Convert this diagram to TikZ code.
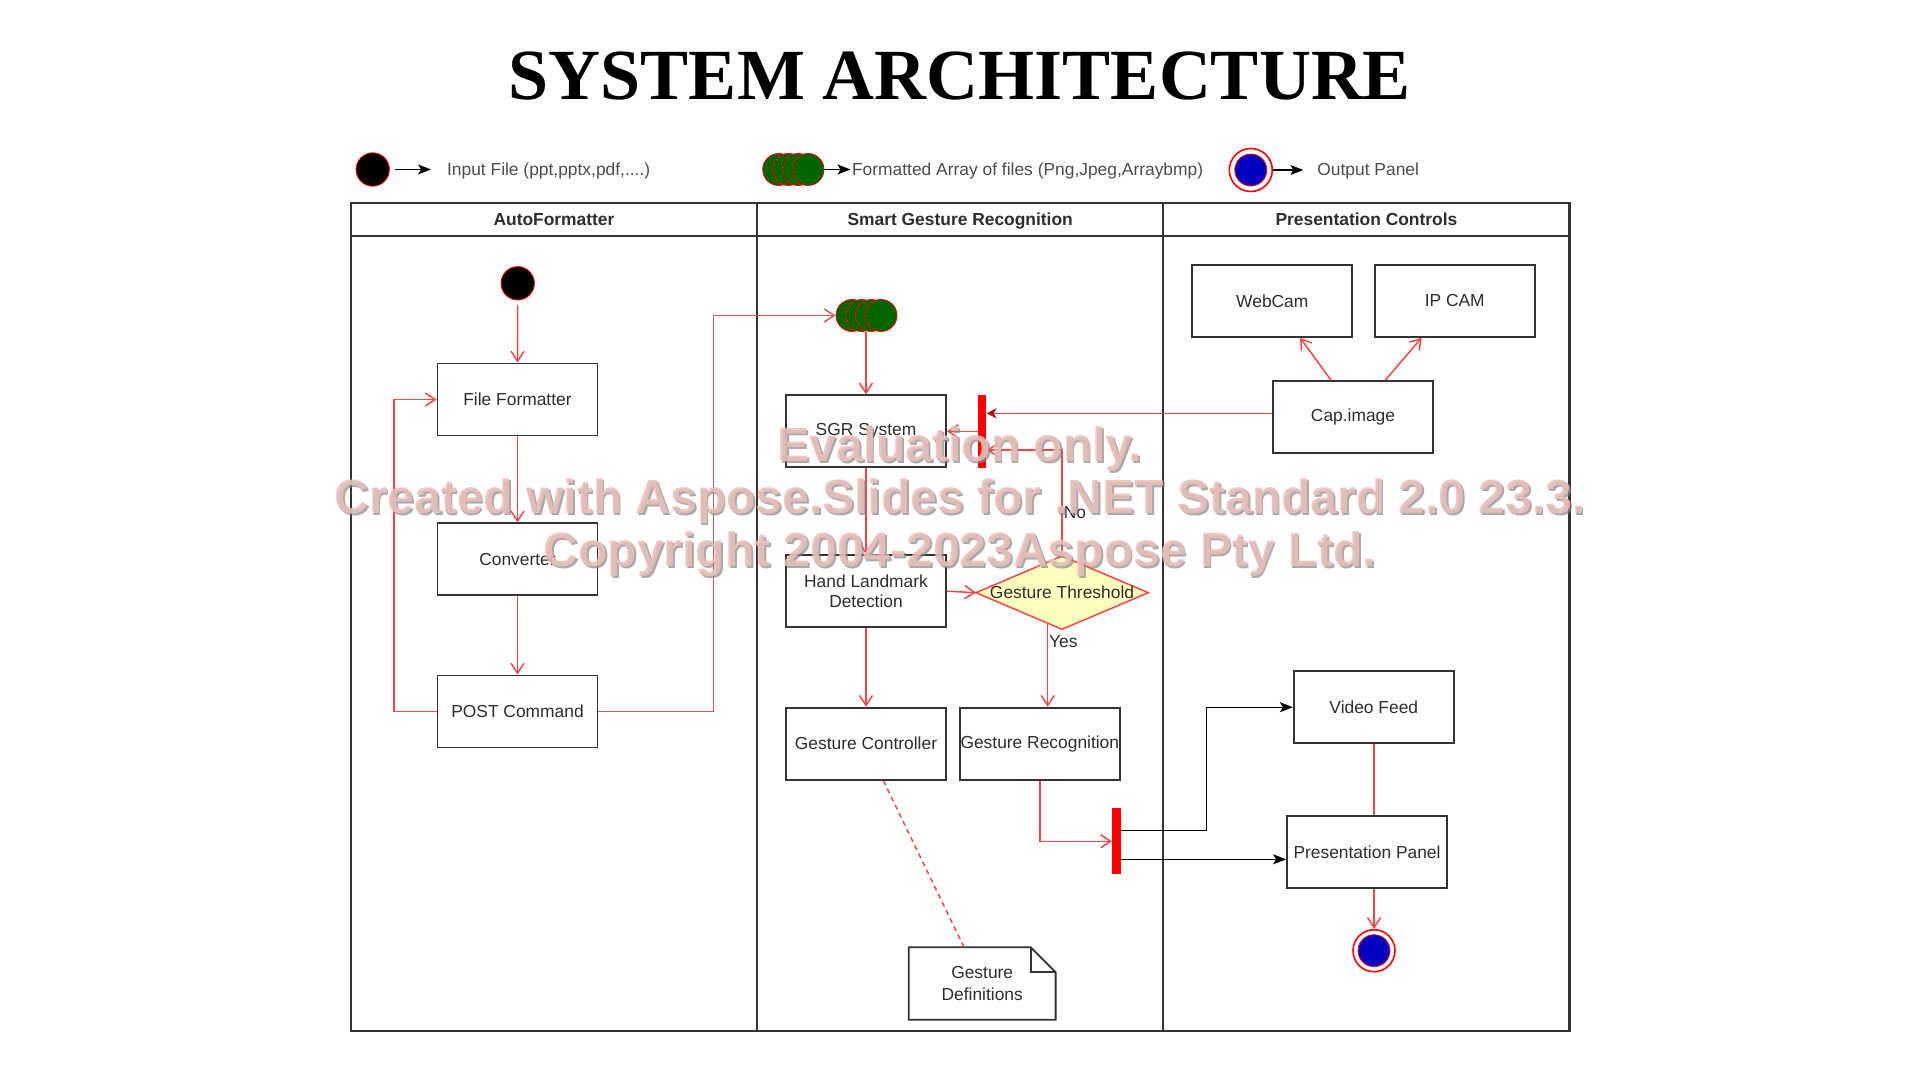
\documentclass[tikz,border=0pt]{standalone}
\usepackage{fontspec}
\setmainfont{Liberation Sans}
\newfontfamily\titlefont{Liberation Serif}
\usetikzlibrary{arrows.meta,calc}
\definecolor{lred}{RGB}{245,70,70}
\definecolor{bred}{RGB}{200,95,95}
\definecolor{dred}{RGB}{180,20,20}
\definecolor{boxc}{RGB}{51,51,51}
\definecolor{txtc}{RGB}{45,45,45}
\definecolor{ggreen}{RGB}{0,100,0}
\definecolor{eblue}{RGB}{0,0,192}
\definecolor{nyellow}{RGB}{255,255,192}
\definecolor{wmpink}{RGB}{234,192,186}
\definecolor{wmgray}{RGB}{135,135,135}
\newcommand\lblfont{\fontsize{8.7pt}{10.2pt}\selectfont}
\newcommand\wmfont{\fontsize{24pt}{28pt}\selectfont\bfseries}
\tikzset{
  box/.style={draw=boxc, line width=0.9pt, minimum width=80pt, minimum height=36pt, inner sep=0pt, font=\lblfont, text=txtc, align=center},
  conn/.style={draw=lred, line width=0.75pt, -{Straight Barb[length=5pt,width=6.5pt]}},
  barrow/.style={draw=black, line width=0.7pt, -{Stealth[length=6.5pt,width=5pt,inset=1.5pt]}},
  lane/.style={draw=boxc, line width=1.1pt},
  hdr/.style={font=\lblfont\bfseries, text=txtc, inner sep=0pt, anchor=base},
  legtext/.style={font=\lblfont, text=txtc!85!white, inner sep=0pt, anchor=base west},
  small/.style={font=\lblfont, text=txtc, inner sep=0pt},
  forkbar/.style={fill=red, draw=none, inner sep=0pt},
  wm/.style={font=\wmfont, text=wmpink, text opacity=0.88, anchor=base, inner sep=0pt},
  wms/.style={font=\wmfont, text=wmgray, text opacity=0.7, anchor=base, inner sep=0pt},
  dot/.style={circle, inner sep=0pt, draw=red, line width=0.4pt}
}
\begin{document}
\begin{tikzpicture}[x=0.5pt,y=-0.5pt]
\useasboundingbox (0,0) rectangle (1920,1080);
\fill[white] (0,0) rectangle (1920,1080);

% title
\node[anchor=base, inner sep=0pt, font=\titlefont\bfseries\fontsize{36pt}{40pt}\selectfont] (title) at (960,99.5) {SYSTEM ARCHITECTURE};

% legend
\node[dot, fill=black, minimum size=16.7pt] (lg1) at (372.7,169.5) {};
\node[legtext] (lgt1) at (446.7,175.8) {Input File (ppt,pptx,pdf,....)};
\draw[barrow, shorten <=2.5pt, shorten >=7.8pt] (lg1.east) -- (lgt1.west |- lg1.east);

\node[dot, fill=ggreen, minimum size=16pt] (lg2a) at (778.7,169.5) {};
\node[dot, fill=ggreen, minimum size=16pt] (lg2b) at (788.5,169.5) {};
\node[dot, fill=ggreen, minimum size=16pt] (lg2c) at (798.2,169.5) {};
\node[dot, fill=ggreen, minimum size=16pt] (lg2d) at (808,169.5) {};
\node[legtext] (lgt2) at (851.7,175.8) {Formatted Array of files (Png,Jpeg,Arraybmp)};
\draw[barrow, shorten >=0.6pt] (lg2d.east) -- (lgt2.west |- lg2d.east);

\node[circle, draw=red, fill=white, line width=0.8pt, minimum size=21.5pt, inner sep=0pt] (lg3) at (1250.8,170) {};
\node[dot, fill=eblue, minimum size=16pt] (lg3i) at (1250.8,170) {};
\node[legtext] (lgt3) at (1317,176) {Output Panel};
\draw[barrow, shorten >=6.8pt] (lg3.east) -- (lgt3.west |- lg3.east);

% swimlanes
\draw[lane] (351,203) rectangle (1569.5,1030.7);
\draw[lane] (351,236) -- (1569.5,236);
\draw[lane] (757,203) -- (757,1030.7);
\draw[lane] (1163.3,203) -- (1163.3,1030.7);
\node[hdr] (h1) at (554,226) {AutoFormatter};
\node[hdr] (h2) at (960.2,226) {Smart Gesture Recognition};
\node[hdr] (h3) at (1366.4,226) {Presentation Controls};

% AutoFormatter lane
\node[dot, fill=black, minimum size=16.7pt] (start) at (517.7,283.3) {};
\node[box] (ff) at (517.5,399.5) {File Formatter};
\node[box] (conv) at (517.5,559.3) {Converter};
\node[box] (post) at (517.5,711.5) {POST Command};
\draw[conn, shorten <=2.5pt] (start.south) -- (ff.north);
\draw[conn] (ff.south) -- (conv.north);
\draw[conn] (conv.south) -- (post.north);
\coordinate (lp1) at (394,711.5);
\draw[conn] (post.west) -- (lp1) |- (ff.west);

% SGR lane
\node[dot, fill=ggreen, minimum size=16pt] (gs1) at (852,315.5) {};
\node[dot, fill=ggreen, minimum size=16pt] (gs2) at (861.7,315.5) {};
\node[dot, fill=ggreen, minimum size=16pt] (gs3) at (871.3,315.5) {};
\node[dot, fill=ggreen, minimum size=16pt] (gs4) at (881,315.5) {};
\coordinate (lp2) at (713.3,711.5);
\draw[conn, draw=bred] (post.east) -- (lp2) |- (gs1.west);

\node[box] (sgr) at (866,431.3) {SGR System};
\node[box] (hld) at (866,591.2) {Hand Landmark\\Detection};
\node[box] (gc) at (866,743.7) {Gesture Controller};
\node[box] (gr) at (1039.8,743.7) {Gesture Recognition};
\draw[conn] (sgr.north |- gs3.south) -- (sgr.north);
\draw[conn] (sgr.south) -- (hld.north);
\draw[conn] (hld.south) -- (gc.north);

\node[forkbar, minimum width=4pt, minimum height=36.35pt] (bar1) at (982.2,431.35) {};
\node[forkbar, minimum width=4.2pt, minimum height=33pt] (bar2) at (1116.5,841.3) {};

% decision diamond
\coordinate (gtN) at (1062,556);
\coordinate (gtE) at (1148.3,592.7);
\coordinate (gtS) at (1062,629.3);
\coordinate (gtW) at (976,592.7);
\draw[fill=nyellow, draw=lred, line width=0.75pt] (gtN) -- (gtE) -- (gtS) -- (gtW) -- cycle;
\node[small] (gtt) at (1062,592.7) {Gesture Threshold};
\draw[conn] (hld.east) -- (gtW);
\coordinate (nb) at (1062,450);
\draw[conn] (gtN) -- (nb) -- (bar1.east |- nb);
\node[small] (nolbl) at (1075,513) {No};
\coordinate (ys) at ($(gtS)!0.166!(gtW)$);
\draw[conn] (ys) -- (ys |- gr.north);
\node[small] (yeslbl) at (1063.3,641.7) {Yes};

\draw[conn] (bar1.west |- sgr.east) -- (sgr.east);
\draw[conn] (gr.south) |- (bar2.west);

% note
\node[inner sep=0pt, minimum width=73pt, minimum height=36.65pt, font=\fontsize{8.7pt}{11pt}\selectfont, text=txtc, align=center] (gd) at (982.2,983.5) {Gesture\\Definitions};
\draw[boxc, line width=0.9pt, line join=miter] ([yshift=-0.4pt]gd.north west) -- ([xshift=-12.5pt,yshift=-0.4pt]gd.north east) -- ([yshift=-12.9pt]gd.north east) -- ([yshift=0.4pt]gd.south east) -- ([yshift=0.4pt]gd.south west) -- cycle;
\draw[boxc, line width=0.9pt] ([xshift=-12.5pt,yshift=-0.4pt]gd.north east) -- ([xshift=-12.5pt,yshift=-12.9pt]gd.north east) -- ([yshift=-12.9pt]gd.north east);
\draw[lred, line width=0.75pt, dash pattern=on 2.5pt off 2pt] ([xshift=8.65pt]gc.south) -- ([xshift=-9.1pt,yshift=-0.4pt]gd.north);

% Presentation Controls lane
\node[box] (web) at (1272.3,300.8) {WebCam};
\node[box] (ipcam) at (1454.7,300.8) {IP CAM};
\node[box] (cap) at (1353,417) {Cap.image};
\node[box] (vf) at (1373.8,707.2) {Video Feed};
\node[box] (pp) at (1367,852.3) {Presentation Panel};
\node[circle, draw=red, fill=white, line width=0.8pt, minimum size=21pt, inner sep=0pt] (endc) at (1374,950.7) {};
\node[dot, fill=eblue, minimum size=16pt] (endi) at (1374,950.7) {};

\draw[conn] ([xshift=-11pt]cap.north) -- ([xshift=13.85pt]web.south);
\draw[conn] ([xshift=16.15pt]cap.north) -- ([xshift=-16.5pt]ipcam.south);
\draw[draw=lred, line width=0.75pt, -{Stealth[length=5pt,width=5pt,inset=1.5pt,color=dred]}] ([yshift=1.85pt]cap.west) -- ([yshift=1.85pt]cap.west -| bar1.east);

\coordinate (lp4) at (1206.7,830.7);
\draw[barrow] (bar2.east |- lp4) -- (lp4) |- (vf.west);
\draw[barrow] ([yshift=-3.5pt]pp.west -| bar2.east) -- ([yshift=-3.5pt]pp.west);
\draw[lred, line width=0.75pt] (vf.south) -- (vf.south |- pp.north);
\draw[conn] (endc.north |- pp.south) -- (endc.north);

% watermark
\node[wms] (wm1s) at (961.8,463) {Evaluation only.};
\node[wms] (wm2s) at (961.8,515) {Created with Aspose.Slides for .NET Standard 2.0 23.3.};
\node[wms] (wm3s) at (961.8,568) {Copyright 2004-2023Aspose Pty Ltd.};
\node[wm] (wm1) at (960,461) {Evaluation only.};
\node[wm] (wm2) at (960,513) {Created with Aspose.Slides for .NET Standard 2.0 23.3.};
\node[wm] (wm3) at (960,566) {Copyright 2004-2023Aspose Pty Ltd.};
\end{tikzpicture}
\end{document}
